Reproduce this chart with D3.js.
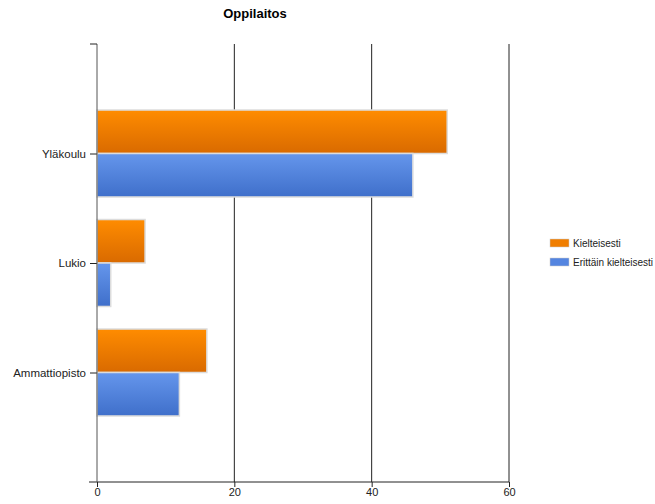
<!DOCTYPE html>
<html><head><meta charset="utf-8">
<script src="https://cdn.jsdelivr.net/npm/d3@7"></script>
<style>body{margin:0;background:#fff}svg{display:block}</style>
</head><body>
<script>
const categories = ["Yläkoulu", "Lukio", "Ammattiopisto"];
const seriesNames = ["Kielteisesti", "Erittäin kielteisesti"];
const kielteisesti = [51, 7, 16];
const erittainKielteisesti = [46, 2, 12];
const xTicks = [0, 20, 40, 60];
const title = "Oppilaitos";

(function () {
const W = 655, H = 504;
const svg = d3.select("body").append("svg").attr("width", W).attr("height", H);
const defs = svg.append("defs");
function grad(id, c1, c2) {
  const g = defs.append("linearGradient").attr("id", id).attr("x1", 0).attr("y1", 0).attr("x2", 0).attr("y2", 1);
  g.append("stop").attr("offset", "0%").attr("stop-color", c1);
  g.append("stop").attr("offset", "100%").attr("stop-color", c2);
}
grad("gO", "#ff8c00", "#d96a00");
grad("gB", "#6596ec", "#3f6fca");
const fills = ["url(#gO)", "url(#gB)"];
const swatch = ["#f07e00", "#5485e0"];

const mLeft = 97, mRight = 509, mTop = 44, mBottom = 482;
const x = d3.scaleLinear().domain([0, 60]).range([mLeft, mRight]);
const y = d3.scalePoint().domain(categories).range([mTop, mBottom]).padding(1);
const step = y.step();
const barH = step * 0.397;

svg.append("text").attr("x", 255).attr("y", 18).attr("text-anchor", "middle")
  .attr("font-family", "Liberation Sans, Arial, sans-serif").attr("font-weight", "bold").attr("font-size", 13)
  .text(title);

svg.append("g").selectAll("line").data(xTicks.slice(1)).join("line")
  .attr("x1", d => x(d)).attr("x2", d => x(d)).attr("y1", mTop).attr("y2", mBottom)
  .attr("stroke", "#222").attr("stroke-width", 1);

const data = categories.map((c, i) => ({c, v: [kielteisesti[i], erittainKielteisesti[i]]}));
const g = svg.append("g");
data.forEach(d => {
  d.v.forEach((v, s) => {
    const yc = y(d.c);
    g.append("rect")
      .attr("x", x(0)).attr("y", s === 0 ? yc - barH : yc)
      .attr("width", x(v) - x(0)).attr("height", barH)
      .attr("fill", fills[s]).attr("stroke", "#dcdcdc").attr("stroke-width", 1.5);
  });
});

const xa = svg.append("g").attr("transform", `translate(0,${mBottom})`)
  .call(d3.axisBottom(x).tickValues(xTicks).tickSize(5).tickSizeOuter(0));
xa.select(".domain").remove();
xa.append("line").attr("x1", 89).attr("x2", mRight).attr("stroke", "#222");
xa.selectAll("text").attr("font-family", "Liberation Sans, Arial, sans-serif").attr("font-size", 11).attr("fill", "#222").attr("dy", "0.5em");
xa.selectAll(".tick line").attr("stroke", "#222").attr("y2", 5);

const ya = svg.append("g").attr("transform", `translate(${mLeft},0)`)
  .call(d3.axisLeft(y).tickSize(7).tickSizeOuter(0));
ya.select(".domain").remove();
ya.append("line").attr("y1", mTop).attr("y2", mBottom).attr("stroke", "#555");
ya.append("line").attr("x1", -7).attr("x2", 0).attr("y1", mTop).attr("y2", mTop).attr("stroke", "#222");
ya.selectAll(".tick line").attr("stroke", "#222");
ya.selectAll("text").attr("font-family", "Liberation Sans, Arial, sans-serif").attr("font-size", 11.5).attr("fill", "#222").attr("dx", "-1");

const lg = svg.append("g").attr("transform", "translate(550,239)");
seriesNames.forEach((n, i) => {
  const r = lg.append("g").attr("transform", `translate(0,${i * 19})`);
  r.append("rect").attr("width", 19).attr("height", 8).attr("fill", swatch[i]).attr("stroke", "#ccc").attr("stroke-width", 0.5);
  r.append("text").attr("x", 23).attr("y", 8).attr("font-family", "Liberation Sans, Arial, sans-serif").attr("font-size", 10).attr("fill", "#222").text(n);
});
})();
</script>
</body></html>
